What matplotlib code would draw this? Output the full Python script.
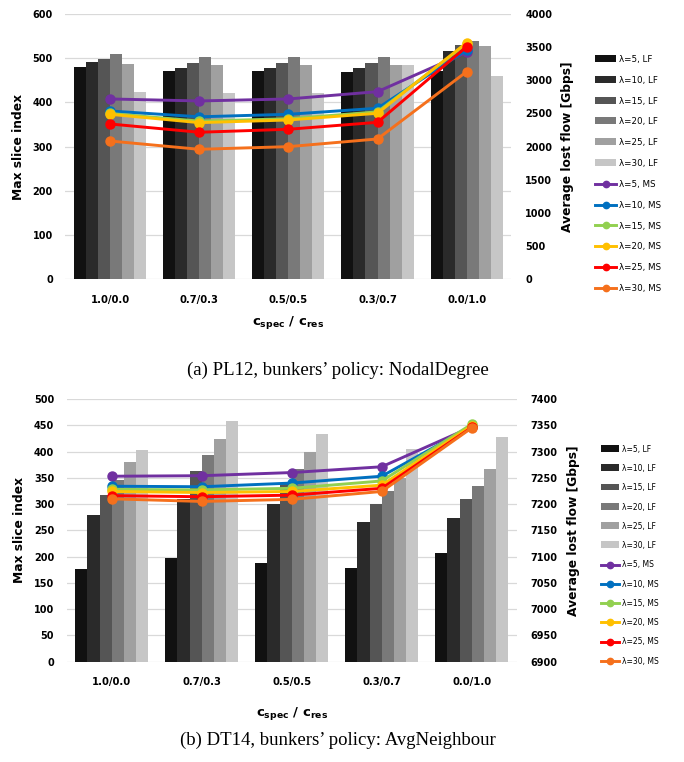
import matplotlib
matplotlib.use("Agg")
import matplotlib.pyplot as plt
import numpy as np

plt.rcParams['font.family'] = ['DejaVu Sans']
plt.rcParams['mathtext.fontset'] = 'dejavusans'

ratios = ['1.0/0.0', '0.7/0.3', '0.5/0.5', '0.3/0.7', '0.0/1.0']
lambdas = [5, 10, 15, 20, 25, 30]

# PL12 / NodalDegree
pl12_slice = [
    [480, 472, 470, 468, 471],
    [491, 479, 477, 477, 517],
    [499, 489, 489, 489, 530],
    [509, 503, 503, 503, 540],
    [487, 485, 485, 485, 528],
    [423, 421, 421, 484, 460],
]
pl12_flow = [
    [2719, 2689, 2719, 2829, 3423],
    [2538, 2450, 2488, 2579, 3458],
    [2500, 2385, 2420, 2525, 3550],
    [2488, 2362, 2402, 2503, 3568],
    [2342, 2217, 2262, 2367, 3508],
    [2085, 1960, 2000, 2116, 3131],
]

# DT14 / AvgNeighbour
dt14_slice = [
    [176, 198, 187, 178, 206],
    [280, 310, 300, 266, 273],
    [318, 363, 340, 300, 310],
    [345, 394, 367, 325, 334],
    [381, 424, 399, 350, 367],
    [402, 459, 434, 405, 428],
]
dt14_flow = [
    [7253, 7254, 7260, 7271, 7347],
    [7234, 7233, 7240, 7253, 7348],
    [7228, 7227, 7230, 7244, 7352],
    [7224, 7222, 7224, 7236, 7349],
    [7216, 7214, 7217, 7230, 7346],
    [7210, 7205, 7209, 7224, 7345],
]

bar_colors = ['#111111', '#2a2a2a', '#555555', '#797979', '#a0a0a0', '#c6c6c6']
line_colors = ['#7030A0', '#0070C0', '#92D050', '#FFC000', '#FF0000', '#F5701C']

W, H = 684, 762
fig = plt.figure(figsize=(W / 100, H / 100), dpi=100)


def draw_panel(rect, slices, flows, ylim1, yticks1, ylim2, yticks2,
               caption, cap_y, xlab_y, lab_x, leg_xy, leg_fs, leg_sp):
    x0, y0, x1, y1 = rect
    ax = fig.add_axes([x0 / W, 1 - y1 / H, (x1 - x0) / W, (y1 - y0) / H])
    ax2 = ax.twinx()
    x = np.arange(len(ratios))
    bw = 0.135
    for i, lam in enumerate(lambdas):
        ax.bar(x + (i - 2.5) * bw, slices[i], width=bw, color=bar_colors[i],
               label=f'λ={lam}, LF', zorder=2)
    for i, lam in enumerate(lambdas):
        ax2.plot(x, flows[i], color=line_colors[i], lw=2.1, marker='o',
                 markersize=6.5, label=f'λ={lam}, MS')

    ax.set_xlim(-0.5, len(ratios) - 0.5)
    ax.set_ylim(*ylim1)
    ax.set_yticks(yticks1)
    ax2.set_ylim(*ylim2)
    ax2.set_yticks(yticks2)
    ax.grid(axis='y', color='#d9d9d9', lw=0.9)
    ax.set_axisbelow(True)
    for a in (ax, ax2):
        for s in a.spines.values():
            s.set_visible(False)
        a.tick_params(length=0, labelsize=7)
        for t in a.get_yticklabels():
            t.set_fontweight('bold')
    ax.tick_params(axis='y', pad=9)
    ax2.tick_params(axis='y', pad=10)
    ax.set_xticks(x)
    ax.set_xticklabels(ratios, fontweight='bold', fontsize=7.2)
    ax.tick_params(axis='x', pad=11)

    fig.text(lab_x[0] / W, 1 - (y0 + y1) / 2 / H, 'Max slice index', rotation=90,
             ha='center', va='center', fontsize=8.8, fontweight='bold')
    fig.text(lab_x[1] / W, 1 - (y0 + y1) / 2 / H, 'Average lost flow [Gbps]',
             rotation=90, ha='center', va='center', fontsize=8.8, fontweight='bold')
    fig.text((x0 + x1) / 2 / W, 1 - xlab_y / H,
             r'$\mathbf{c_{spec}}$ / $\mathbf{c_{res}}$',
             ha='center', va='center', fontsize=9.5, fontweight='bold')
    fig.text(338 / W, 1 - cap_y / H, caption, ha='center', va='center',
             fontsize=13.5, family='Liberation Serif')

    h1, l1 = ax.get_legend_handles_labels()
    h2, l2 = ax2.get_legend_handles_labels()
    leg = ax2.legend(h1 + h2, l1 + l2, loc='upper left',
                     bbox_to_anchor=(leg_xy[0] / W, 1 - leg_xy[1] / H),
                     bbox_transform=fig.transFigure, frameon=False,
                     fontsize=leg_fs, labelspacing=leg_sp, handlelength=2.4,
                     handletextpad=0.3, borderpad=0, borderaxespad=0,
                     markerscale=0.7)
    for lh in leg.legend_handles[:6]:
        lh.set_height(5)
    return ax, ax2


draw_panel((65.4, 14, 511.3, 279.3), pl12_slice, pl12_flow,
           (0, 600), range(0, 601, 100), (0, 4000), range(0, 4001, 500),
           "(a) PL12, bunkers’ policy: NodalDegree", 370, 322, (19, 567),
           (595, 55), 6.3, 1.35)
draw_panel((66.7, 399, 516.7, 661.7), dt14_slice, dt14_flow,
           (0, 500), range(0, 501, 50), (6900, 7400), range(6900, 7401, 50),
           "(b) DT14, bunkers’ policy: AvgNeighbour", 740, 713, (20, 573),
           (601, 445), 5.5, 1.34)

fig.savefig('out.png', dpi=100)
